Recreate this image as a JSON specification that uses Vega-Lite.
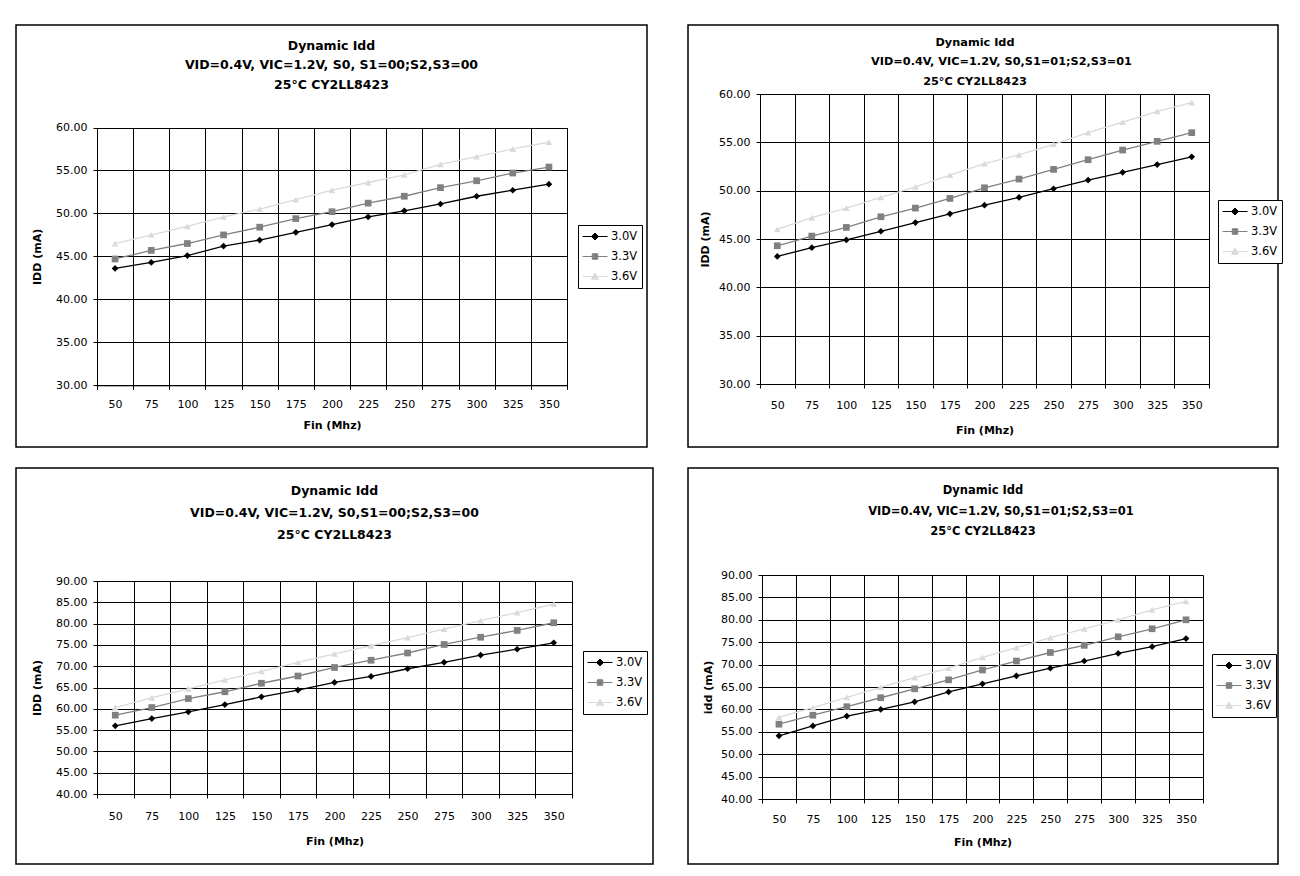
{
  "$schema": "https://vega.github.io/schema/vega-lite/v6.json",
  "padding": {"left": 15, "top": 24, "right": 5, "bottom": 5},
  "background": "white",
  "datasets": {
    "tl": [
      {"fin": 50, "series": "3.0V", "idd": 43.6}, {"fin": 75, "series": "3.0V", "idd": 44.3}, {"fin": 100, "series": "3.0V", "idd": 45.1}, {"fin": 125, "series": "3.0V", "idd": 46.2}, {"fin": 150, "series": "3.0V", "idd": 46.9}, {"fin": 175, "series": "3.0V", "idd": 47.8}, {"fin": 200, "series": "3.0V", "idd": 48.7}, {"fin": 225, "series": "3.0V", "idd": 49.6}, {"fin": 250, "series": "3.0V", "idd": 50.3}, {"fin": 275, "series": "3.0V", "idd": 51.1}, {"fin": 300, "series": "3.0V", "idd": 52.0}, {"fin": 325, "series": "3.0V", "idd": 52.7}, {"fin": 350, "series": "3.0V", "idd": 53.4},
      {"fin": 50, "series": "3.3V", "idd": 44.7}, {"fin": 75, "series": "3.3V", "idd": 45.7}, {"fin": 100, "series": "3.3V", "idd": 46.5}, {"fin": 125, "series": "3.3V", "idd": 47.5}, {"fin": 150, "series": "3.3V", "idd": 48.4}, {"fin": 175, "series": "3.3V", "idd": 49.4}, {"fin": 200, "series": "3.3V", "idd": 50.2}, {"fin": 225, "series": "3.3V", "idd": 51.2}, {"fin": 250, "series": "3.3V", "idd": 52.0}, {"fin": 275, "series": "3.3V", "idd": 53.0}, {"fin": 300, "series": "3.3V", "idd": 53.8}, {"fin": 325, "series": "3.3V", "idd": 54.7}, {"fin": 350, "series": "3.3V", "idd": 55.4},
      {"fin": 50, "series": "3.6V", "idd": 46.5}, {"fin": 75, "series": "3.6V", "idd": 47.5}, {"fin": 100, "series": "3.6V", "idd": 48.5}, {"fin": 125, "series": "3.6V", "idd": 49.6}, {"fin": 150, "series": "3.6V", "idd": 50.5}, {"fin": 175, "series": "3.6V", "idd": 51.6}, {"fin": 200, "series": "3.6V", "idd": 52.7}, {"fin": 225, "series": "3.6V", "idd": 53.6}, {"fin": 250, "series": "3.6V", "idd": 54.5}, {"fin": 275, "series": "3.6V", "idd": 55.7}, {"fin": 300, "series": "3.6V", "idd": 56.6}, {"fin": 325, "series": "3.6V", "idd": 57.5}, {"fin": 350, "series": "3.6V", "idd": 58.3}
    ],
    "tr": [
      {"fin": 50, "series": "3.0V", "idd": 43.2}, {"fin": 75, "series": "3.0V", "idd": 44.1}, {"fin": 100, "series": "3.0V", "idd": 44.9}, {"fin": 125, "series": "3.0V", "idd": 45.8}, {"fin": 150, "series": "3.0V", "idd": 46.7}, {"fin": 175, "series": "3.0V", "idd": 47.6}, {"fin": 200, "series": "3.0V", "idd": 48.5}, {"fin": 225, "series": "3.0V", "idd": 49.3}, {"fin": 250, "series": "3.0V", "idd": 50.2}, {"fin": 275, "series": "3.0V", "idd": 51.1}, {"fin": 300, "series": "3.0V", "idd": 51.9}, {"fin": 325, "series": "3.0V", "idd": 52.7}, {"fin": 350, "series": "3.0V", "idd": 53.5},
      {"fin": 50, "series": "3.3V", "idd": 44.3}, {"fin": 75, "series": "3.3V", "idd": 45.3}, {"fin": 100, "series": "3.3V", "idd": 46.2}, {"fin": 125, "series": "3.3V", "idd": 47.3}, {"fin": 150, "series": "3.3V", "idd": 48.2}, {"fin": 175, "series": "3.3V", "idd": 49.2}, {"fin": 200, "series": "3.3V", "idd": 50.3}, {"fin": 225, "series": "3.3V", "idd": 51.2}, {"fin": 250, "series": "3.3V", "idd": 52.2}, {"fin": 275, "series": "3.3V", "idd": 53.2}, {"fin": 300, "series": "3.3V", "idd": 54.2}, {"fin": 325, "series": "3.3V", "idd": 55.1}, {"fin": 350, "series": "3.3V", "idd": 56.0},
      {"fin": 50, "series": "3.6V", "idd": 46.0}, {"fin": 75, "series": "3.6V", "idd": 47.2}, {"fin": 100, "series": "3.6V", "idd": 48.2}, {"fin": 125, "series": "3.6V", "idd": 49.3}, {"fin": 150, "series": "3.6V", "idd": 50.4}, {"fin": 175, "series": "3.6V", "idd": 51.6}, {"fin": 200, "series": "3.6V", "idd": 52.8}, {"fin": 225, "series": "3.6V", "idd": 53.7}, {"fin": 250, "series": "3.6V", "idd": 54.8}, {"fin": 275, "series": "3.6V", "idd": 56.0}, {"fin": 300, "series": "3.6V", "idd": 57.1}, {"fin": 325, "series": "3.6V", "idd": 58.2}, {"fin": 350, "series": "3.6V", "idd": 59.1}
    ],
    "bl": [
      {"fin": 50, "series": "3.0V", "idd": 56.0}, {"fin": 75, "series": "3.0V", "idd": 57.7}, {"fin": 100, "series": "3.0V", "idd": 59.3}, {"fin": 125, "series": "3.0V", "idd": 61.0}, {"fin": 150, "series": "3.0V", "idd": 62.8}, {"fin": 175, "series": "3.0V", "idd": 64.4}, {"fin": 200, "series": "3.0V", "idd": 66.2}, {"fin": 225, "series": "3.0V", "idd": 67.6}, {"fin": 250, "series": "3.0V", "idd": 69.4}, {"fin": 275, "series": "3.0V", "idd": 70.9}, {"fin": 300, "series": "3.0V", "idd": 72.6}, {"fin": 325, "series": "3.0V", "idd": 74.0}, {"fin": 350, "series": "3.0V", "idd": 75.5},
      {"fin": 50, "series": "3.3V", "idd": 58.5}, {"fin": 75, "series": "3.3V", "idd": 60.3}, {"fin": 100, "series": "3.3V", "idd": 62.4}, {"fin": 125, "series": "3.3V", "idd": 64.0}, {"fin": 150, "series": "3.3V", "idd": 66.0}, {"fin": 175, "series": "3.3V", "idd": 67.7}, {"fin": 200, "series": "3.3V", "idd": 69.7}, {"fin": 225, "series": "3.3V", "idd": 71.4}, {"fin": 250, "series": "3.3V", "idd": 73.1}, {"fin": 275, "series": "3.3V", "idd": 75.1}, {"fin": 300, "series": "3.3V", "idd": 76.8}, {"fin": 325, "series": "3.3V", "idd": 78.4}, {"fin": 350, "series": "3.3V", "idd": 80.2},
      {"fin": 50, "series": "3.6V", "idd": 60.3}, {"fin": 75, "series": "3.6V", "idd": 62.6}, {"fin": 100, "series": "3.6V", "idd": 64.7}, {"fin": 125, "series": "3.6V", "idd": 66.8}, {"fin": 150, "series": "3.6V", "idd": 68.8}, {"fin": 175, "series": "3.6V", "idd": 70.9}, {"fin": 200, "series": "3.6V", "idd": 72.9}, {"fin": 225, "series": "3.6V", "idd": 74.8}, {"fin": 250, "series": "3.6V", "idd": 76.7}, {"fin": 275, "series": "3.6V", "idd": 78.7}, {"fin": 300, "series": "3.6V", "idd": 80.7}, {"fin": 325, "series": "3.6V", "idd": 82.6}, {"fin": 350, "series": "3.6V", "idd": 84.6}
    ],
    "br": [
      {"fin": 50, "series": "3.0V", "idd": 54.1}, {"fin": 75, "series": "3.0V", "idd": 56.3}, {"fin": 100, "series": "3.0V", "idd": 58.5}, {"fin": 125, "series": "3.0V", "idd": 60.0}, {"fin": 150, "series": "3.0V", "idd": 61.7}, {"fin": 175, "series": "3.0V", "idd": 63.9}, {"fin": 200, "series": "3.0V", "idd": 65.7}, {"fin": 225, "series": "3.0V", "idd": 67.5}, {"fin": 250, "series": "3.0V", "idd": 69.2}, {"fin": 275, "series": "3.0V", "idd": 70.8}, {"fin": 300, "series": "3.0V", "idd": 72.5}, {"fin": 325, "series": "3.0V", "idd": 74.0}, {"fin": 350, "series": "3.0V", "idd": 75.8},
      {"fin": 50, "series": "3.3V", "idd": 56.7}, {"fin": 75, "series": "3.3V", "idd": 58.7}, {"fin": 100, "series": "3.3V", "idd": 60.6}, {"fin": 125, "series": "3.3V", "idd": 62.6}, {"fin": 150, "series": "3.3V", "idd": 64.6}, {"fin": 175, "series": "3.3V", "idd": 66.6}, {"fin": 200, "series": "3.3V", "idd": 68.8}, {"fin": 225, "series": "3.3V", "idd": 70.8}, {"fin": 250, "series": "3.3V", "idd": 72.7}, {"fin": 275, "series": "3.3V", "idd": 74.3}, {"fin": 300, "series": "3.3V", "idd": 76.2}, {"fin": 325, "series": "3.3V", "idd": 78.0}, {"fin": 350, "series": "3.3V", "idd": 80.0},
      {"fin": 50, "series": "3.6V", "idd": 58.2}, {"fin": 75, "series": "3.6V", "idd": 60.4}, {"fin": 100, "series": "3.6V", "idd": 62.7}, {"fin": 125, "series": "3.6V", "idd": 64.9}, {"fin": 150, "series": "3.6V", "idd": 67.1}, {"fin": 175, "series": "3.6V", "idd": 69.2}, {"fin": 200, "series": "3.6V", "idd": 71.6}, {"fin": 225, "series": "3.6V", "idd": 73.8}, {"fin": 250, "series": "3.6V", "idd": 76.0}, {"fin": 275, "series": "3.6V", "idd": 78.0}, {"fin": 300, "series": "3.6V", "idd": 80.0}, {"fin": 325, "series": "3.6V", "idd": 82.2}, {"fin": 350, "series": "3.6V", "idd": 84.1}
    ]
  },
  "resolve": {"legend": {"color": "independent"}},
  "spacing": 19,
  "vconcat": [
    {
      "spacing": 39,
      "resolve": {"legend": {"color": "independent"}},
      "hconcat": [
        {
          "width": 631, "height": 422,
          "data": {"name": "tl"},
          "title": {"text": ["Dynamic Idd", "VID=0.4V, VIC=1.2V, S0, S1=00;S2,S3=00", "25°C CY2LL8423"], "fontSize": 12.5, "lineHeight": 19.5, "offset": -66, "anchor": "middle", "frame": "group", "font": "DejaVu Sans", "fontWeight": "bold", "color": "black"},
          "encoding": {
            "y": {"field": "idd", "type": "quantitative", "scale": {"domain": [30, 60], "range": [360.3, 102.5], "nice": false, "zero": false}, "axis": {"orient": "left", "offset": -81, "values": [30, 35, 40, 45, 50, 55, 60], "format": ".2f", "title": "IDD (mA)", "titlePadding": 13.5}},
            "color": {"field": "series", "type": "nominal", "scale": {"domain": ["3.0V", "3.3V", "3.6V"], "range": ["#000000", "#808080", "#dadada"]},
              "legend": {"title": null, "orient": "none", "legendX": 562, "legendY": 200,
                "encode": {"symbols": {"update": {
                  "shape": {"signal": "datum.value === '3.0V' ? 'M-1,0H1M0,-0.28L0.28,0L0,0.28L-0.28,0Z' : datum.value === '3.3V' ? 'M-1,0H1M-0.22,-0.22H0.22V0.22H-0.22Z' : 'M-1,0H1M0,-0.28L0.28,0.22H-0.28Z'"},
                  "fill": {"signal": "datum.value === '3.0V' ? '#000000' : datum.value === '3.3V' ? '#808080' : '#dadada'"},
                  "stroke": {"signal": "datum.value === '3.0V' ? '#000000' : datum.value === '3.3V' ? '#808080' : '#dadada'"},
                  "strokeWidth": {"value": 1}, "opacity": {"value": 1}}}}}}
          },
          "resolve": {"axis": {"x": "independent"}},
          "layer": [
            {"mark": {"type": "line", "strokeWidth": 1.3},
             "encoding": {"x": {"field": "fin", "type": "ordinal", "scale": {"type": "band", "range": [81, 551], "paddingInner": 0, "paddingOuter": 0},
               "axis": {"orient": "bottom", "offset": -61.7, "tickBand": "extent", "grid": false, "title": "Fin (Mhz)", "labelPadding": 9, "titlePadding": 10}}}},
            {"mark": {"type": "point", "filled": true, "size": 45, "opacity": 1},
             "encoding": {"x": {"field": "fin", "type": "ordinal", "scale": {"type": "band", "range": [81, 551], "paddingInner": 0, "paddingOuter": 0},
               "axis": {"orient": "top", "tickBand": "extent", "grid": true, "domain": false, "ticks": false, "labels": false, "title": null}},
               "shape": {"field": "series", "type": "nominal", "scale": {"domain": ["3.0V", "3.3V", "3.6V"], "range": ["diamond", "square", "triangle-up"]}, "legend": null}}}
          ]
        },
        {
          "width": 590, "height": 422,
          "data": {"name": "tr"},
          "title": {"text": ["Dynamic Idd", "\u2800\u2800\u2800\u2800\u2800\u2800VID=0.4V, VIC=1.2V, S0,S1=01;S2,S3=01", "25°C CY2LL8423"], "fontSize": 11.3, "lineHeight": 19.5, "offset": -62, "dx": -8, "anchor": "middle", "frame": "group", "font": "DejaVu Sans", "fontWeight": "bold", "color": "black"},
          "encoding": {
            "y": {"field": "idd", "type": "quantitative", "scale": {"domain": [30, 60], "range": [359, 69], "nice": false, "zero": false}, "axis": {"orient": "left", "offset": -72, "values": [30, 35, 40, 45, 50, 55, 60], "format": ".2f", "title": "IDD (mA)", "titlePadding": 8}},
            "color": {"field": "series", "type": "nominal", "scale": {"domain": ["3.0V", "3.3V", "3.6V"], "range": ["#000000", "#808080", "#dadada"]},
              "legend": {"title": null, "orient": "none", "legendX": 530, "legendY": 175,
                "encode": {"symbols": {"update": {
                  "shape": {"signal": "datum.value === '3.0V' ? 'M-1,0H1M0,-0.28L0.28,0L0,0.28L-0.28,0Z' : datum.value === '3.3V' ? 'M-1,0H1M-0.22,-0.22H0.22V0.22H-0.22Z' : 'M-1,0H1M0,-0.28L0.28,0.22H-0.28Z'"},
                  "fill": {"signal": "datum.value === '3.0V' ? '#000000' : datum.value === '3.3V' ? '#808080' : '#dadada'"},
                  "stroke": {"signal": "datum.value === '3.0V' ? '#000000' : datum.value === '3.3V' ? '#808080' : '#dadada'"},
                  "strokeWidth": {"value": 1}, "opacity": {"value": 1}}}}}}
          },
          "resolve": {"axis": {"x": "independent"}},
          "layer": [
            {"mark": {"type": "line", "strokeWidth": 1.3},
             "encoding": {"x": {"field": "fin", "type": "ordinal", "scale": {"type": "band", "range": [72, 521], "paddingInner": 0, "paddingOuter": 0},
               "axis": {"orient": "bottom", "offset": -63, "tickBand": "extent", "grid": false, "title": "Fin (Mhz)", "labelPadding": 11.5, "titlePadding": 14}}}},
            {"mark": {"type": "point", "filled": true, "size": 45, "opacity": 1},
             "encoding": {"x": {"field": "fin", "type": "ordinal", "scale": {"type": "band", "range": [72, 521], "paddingInner": 0, "paddingOuter": 0},
               "axis": {"orient": "top", "tickBand": "extent", "grid": true, "domain": false, "ticks": false, "labels": false, "title": null}},
               "shape": {"field": "series", "type": "nominal", "scale": {"domain": ["3.0V", "3.3V", "3.6V"], "range": ["diamond", "square", "triangle-up"]}, "legend": null}}}
          ]
        }
      ]
    },
    {
      "spacing": 33,
      "resolve": {"legend": {"color": "independent"}},
      "hconcat": [
        {
          "width": 637, "height": 396,
          "data": {"name": "bl"},
          "title": {"text": ["Dynamic Idd", "VID=0.4V, VIC=1.2V, S0,S1=00;S2,S3=00", "25°C CY2LL8423"], "fontSize": 12.5, "lineHeight": 22, "offset": -73, "anchor": "middle", "frame": "group", "font": "DejaVu Sans", "fontWeight": "bold", "color": "black"},
          "encoding": {
            "y": {"field": "idd", "type": "quantitative", "scale": {"domain": [40, 90], "range": [326, 113], "nice": false, "zero": false}, "axis": {"orient": "left", "offset": -81, "values": [40, 45, 50, 55, 60, 65, 70, 75, 80, 85, 90], "format": ".2f", "title": "IDD (mA)", "titlePadding": 13}},
            "color": {"field": "series", "type": "nominal", "scale": {"domain": ["3.0V", "3.3V", "3.6V"], "range": ["#000000", "#808080", "#dadada"]},
              "legend": {"title": null, "orient": "none", "legendX": 567, "legendY": 183,
                "encode": {"symbols": {"update": {
                  "shape": {"signal": "datum.value === '3.0V' ? 'M-1,0H1M0,-0.28L0.28,0L0,0.28L-0.28,0Z' : datum.value === '3.3V' ? 'M-1,0H1M-0.22,-0.22H0.22V0.22H-0.22Z' : 'M-1,0H1M0,-0.28L0.28,0.22H-0.28Z'"},
                  "fill": {"signal": "datum.value === '3.0V' ? '#000000' : datum.value === '3.3V' ? '#808080' : '#dadada'"},
                  "stroke": {"signal": "datum.value === '3.0V' ? '#000000' : datum.value === '3.3V' ? '#808080' : '#dadada'"},
                  "strokeWidth": {"value": 1}, "opacity": {"value": 1}}}}}}
          },
          "resolve": {"axis": {"x": "independent"}},
          "layer": [
            {"mark": {"type": "line", "strokeWidth": 1.3},
             "encoding": {"x": {"field": "fin", "type": "ordinal", "scale": {"type": "band", "range": [81, 556], "paddingInner": 0, "paddingOuter": 0},
               "axis": {"orient": "bottom", "offset": -70, "tickBand": "extent", "grid": false, "title": "Fin (Mhz)", "labelPadding": 12.5, "titlePadding": 14}}}},
            {"mark": {"type": "point", "filled": true, "size": 45, "opacity": 1},
             "encoding": {"x": {"field": "fin", "type": "ordinal", "scale": {"type": "band", "range": [81, 556], "paddingInner": 0, "paddingOuter": 0},
               "axis": {"orient": "top", "tickBand": "extent", "grid": true, "domain": false, "ticks": false, "labels": false, "title": null}},
               "shape": {"field": "series", "type": "nominal", "scale": {"domain": ["3.0V", "3.3V", "3.6V"], "range": ["diamond", "square", "triangle-up"]}, "legend": null}}}
          ]
        },
        {
          "width": 590, "height": 396,
          "data": {"name": "br"},
          "title": {"text": ["Dynamic Idd", "\u2800\u2800\u2800\u2800VID=0.4V, VIC=1.2V, S0,S1=01;S2,S3=01", "25°C CY2LL8423"], "fontSize": 11.5, "lineHeight": 20.5, "offset": -69.5, "anchor": "middle", "frame": "group", "font": "DejaVu Sans", "fontWeight": "bold", "color": "black"},
          "encoding": {
            "y": {"field": "idd", "type": "quantitative", "scale": {"domain": [40, 90], "range": [331, 107], "nice": false, "zero": false}, "axis": {"orient": "left", "offset": -74, "values": [40, 45, 50, 55, 60, 65, 70, 75, 80, 85, 90], "format": ".2f", "title": "idd (mA)", "titlePadding": 7.5}},
            "color": {"field": "series", "type": "nominal", "scale": {"domain": ["3.0V", "3.3V", "3.6V"], "range": ["#000000", "#808080", "#dadada"]},
              "legend": {"title": null, "orient": "none", "legendX": 524, "legendY": 186,
                "encode": {"symbols": {"update": {
                  "shape": {"signal": "datum.value === '3.0V' ? 'M-1,0H1M0,-0.28L0.28,0L0,0.28L-0.28,0Z' : datum.value === '3.3V' ? 'M-1,0H1M-0.22,-0.22H0.22V0.22H-0.22Z' : 'M-1,0H1M0,-0.28L0.28,0.22H-0.28Z'"},
                  "fill": {"signal": "datum.value === '3.0V' ? '#000000' : datum.value === '3.3V' ? '#808080' : '#dadada'"},
                  "stroke": {"signal": "datum.value === '3.0V' ? '#000000' : datum.value === '3.3V' ? '#808080' : '#dadada'"},
                  "strokeWidth": {"value": 1}, "opacity": {"value": 1}}}}}}
          },
          "resolve": {"axis": {"x": "independent"}},
          "layer": [
            {"mark": {"type": "line", "strokeWidth": 1.3},
             "encoding": {"x": {"field": "fin", "type": "ordinal", "scale": {"type": "band", "range": [74, 515], "paddingInner": 0, "paddingOuter": 0},
               "axis": {"orient": "bottom", "offset": -65, "tickBand": "extent", "grid": false, "title": "Fin (Mhz)", "labelPadding": 10.5, "titlePadding": 12}}}},
            {"mark": {"type": "point", "filled": true, "size": 45, "opacity": 1},
             "encoding": {"x": {"field": "fin", "type": "ordinal", "scale": {"type": "band", "range": [74, 515], "paddingInner": 0, "paddingOuter": 0},
               "axis": {"orient": "top", "tickBand": "extent", "grid": true, "domain": false, "ticks": false, "labels": false, "title": null}},
               "shape": {"field": "series", "type": "nominal", "scale": {"domain": ["3.0V", "3.3V", "3.6V"], "range": ["diamond", "square", "triangle-up"]}, "legend": null}}}
          ]
        }
      ]
    }
  ],
  "config": {
    "view": {"stroke": "#000000", "strokeWidth": 1.5},
    "font": "DejaVu Sans",
    "axis": {"domainColor": "#000000", "tickColor": "#000000", "gridColor": "#000000", "gridOpacity": 1, "gridWidth": 1, "domainWidth": 1, "tickWidth": 1, "tickSize": 4, "labelColor": "#000000", "titleColor": "#000000", "labelFont": "DejaVu Sans", "labelFontSize": 11, "titleFont": "DejaVu Sans", "titleFontSize": 11, "titleFontWeight": "bold"},
    "axisY": {"labelPadding": 6},
    "axisX": {"labelAngle": 0},
    "legend": {"strokeColor": "#000000", "fillColor": "#ffffff", "padding": 4, "labelFont": "DejaVu Sans", "labelFontSize": 11.5, "labelColor": "#000000", "rowPadding": 5, "clipHeight": 15, "symbolSize": 625, "labelOffset": 3, "symbolStrokeWidth": 1, "cornerRadius": 0, "strokeWidth": 1}
  }
}
